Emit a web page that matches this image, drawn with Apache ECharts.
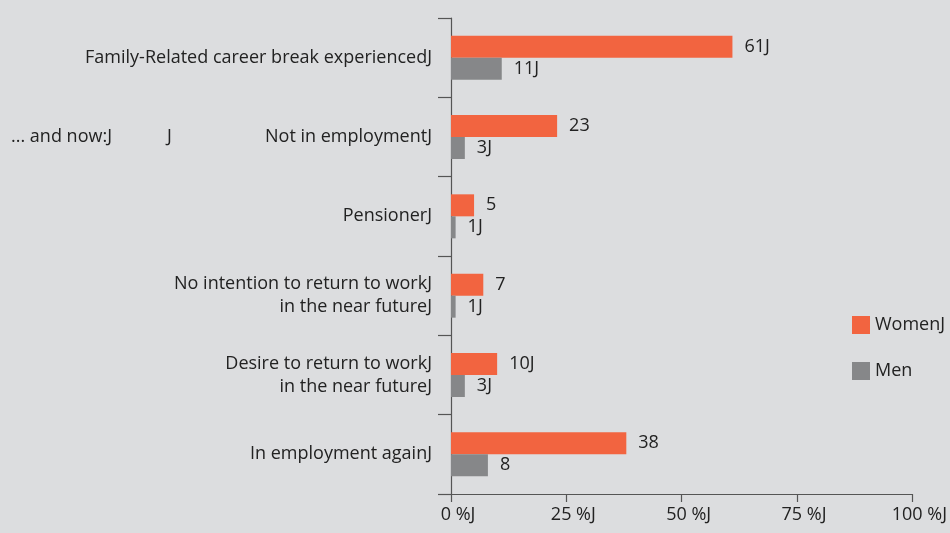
<!DOCTYPE html>
<html>
<head>
<meta charset="utf-8">
<script src="https://cdn.jsdelivr.net/npm/echarts@6/dist/echarts.min.js"></script>
<style>
  html, body { margin: 0; padding: 0; background: #dcdddf; }
  #chart { width: 950px; height: 533px; }
</style>
</head>
<body>
<div id="chart"></div>
<script>
// Career break outcomes, share in percent
const categories = [
  'Family-Related career break experiencedJ',
  'Not in employmentJ',
  'PensionerJ',
  'No intention to return to workJ\nin the near futureJ',
  'Desire to return to workJ\nin the near futureJ',
  'In employment againJ'
];
const womenValues = [61, 23, 5, 7, 10, 38];
const menValues = [11, 3, 1, 1, 3, 8];
const womenSuffix = ['J', '', '', '', 'J', ''];
const menSuffix = ['J', 'J', 'J', 'J', 'J', ''];
const xTickLabels = ['0 %J', '25 %J', '50 %J', '75 %J', '100 %J'];
const seriesNames = ['WomenJ', 'Men'];

const FONT = '"Open Sans", "Noto Sans", sans-serif';
const TEXT = '#222222';
const FS = 18;

const chart = echarts.init(document.getElementById('chart'), null, { renderer: 'canvas' });

const labelStyle = { color: TEXT, fontFamily: FONT, fontSize: FS };

chart.setOption({
  backgroundColor: '#dcdddf',
  animation: false,
  legend: {
    orient: 'vertical',
    left: 847,
    top: 311,
    itemWidth: 18,
    itemHeight: 18,
    itemGap: 28,
    icon: 'rect',
    textStyle: { color: TEXT, fontFamily: FONT, fontSize: FS },
    data: seriesNames
  },
  grid: { left: 451, right: 33, top: 18, bottom: 39, containLabel: false },
  xAxis: {
    type: 'value',
    min: 0,
    max: 100,
    interval: 25,
    axisLine: { show: true, lineStyle: { color: '#555555', width: 1.2 } },
    axisTick: { show: true, length: 8, lineStyle: { color: '#555555', width: 1.2 } },
    splitLine: { show: false },
    axisLabel: {
      margin: 12,
      color: TEXT,
      fontFamily: FONT,
      fontSize: FS,
      padding: [0, 0, 0, 14],
      formatter: (v) => xTickLabels[Math.round(v / 25)]
    }
  },
  yAxis: {
    type: 'category',
    inverse: true,
    data: categories,
    axisLine: { show: true, lineStyle: { color: '#555555', width: 1.2 } },
    axisTick: { show: true, length: 13, inside: false, lineStyle: { color: '#555555', width: 1.2 } },
    axisLabel: {
      margin: 19,
      color: TEXT,
      fontFamily: FONT,
      fontSize: FS,
      lineHeight: 23,
      align: 'right',
      formatter: (v, i) => i === 1
        ? '{a|... and now:J}{b|J}{c|' + v + '}'
        : v,
      rich: {
        a: { width: 156, align: 'left', color: TEXT, fontFamily: FONT, fontSize: FS },
        b: { width: 94, align: 'left', color: TEXT, fontFamily: FONT, fontSize: FS },
        c: { width: 171, align: 'right', color: TEXT, fontFamily: FONT, fontSize: FS }
      }
    }
  },
  series: [
    {
      name: seriesNames[0],
      type: 'bar',
      data: womenValues,
      barWidth: 22,
      barGap: '0%',
      itemStyle: { color: '#f26440' },
      label: {
        show: true,
        position: 'right',
        distance: 12,
        ...labelStyle,
        formatter: (p) => p.value + womenSuffix[p.dataIndex]
      }
    },
    {
      name: seriesNames[1],
      type: 'bar',
      data: menValues,
      barWidth: 22,
      barGap: '0%',
      itemStyle: { color: '#868789' },
      label: {
        show: true,
        position: 'right',
        distance: 12,
        ...labelStyle,
        formatter: (p) => p.value + menSuffix[p.dataIndex]
      }
    }
  ]
});
</script>
</body>
</html>
